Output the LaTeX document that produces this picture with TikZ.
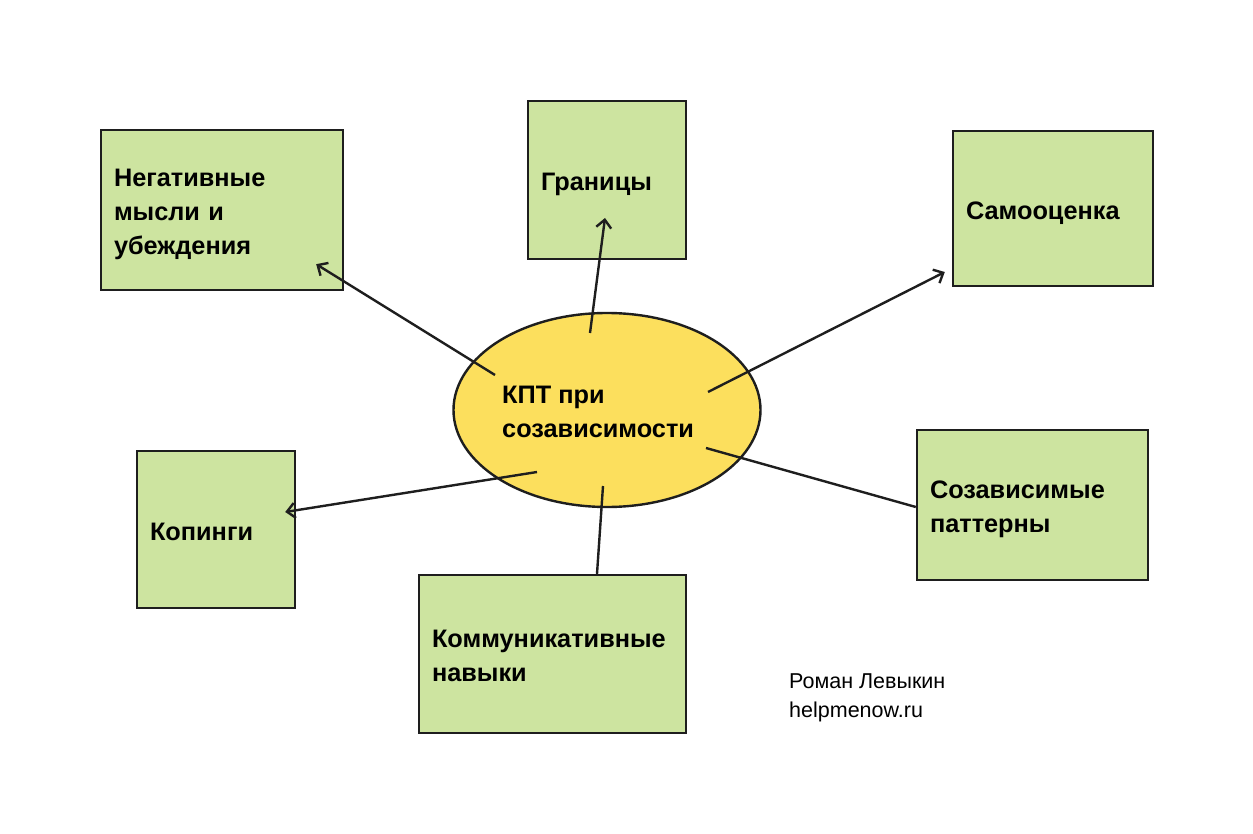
\documentclass[tikz,border=0pt]{standalone}
\usepackage{fontspec}
\setmainfont{Liberation Sans}
\usetikzlibrary{shapes.geometric,arrows.meta}
\definecolor{boxgreen}{HTML}{CDE4A0}
\definecolor{ellyellow}{HTML}{FCDF5D}
\definecolor{ink}{HTML}{1E1E1E}
\newcommand\tstrut{\rule{0pt}{27pt}}
\newcommand\bstrut{\rule[-5.3pt]{0pt}{5.3pt}}
\tikzset{
  topic/.style={draw=ink, line width=2.4pt, fill=boxgreen, rectangle, inner xsep=13pt, inner ysep=0pt,
    align=left, font=\fontsize{25.3}{34}\selectfont\bfseries, text=black, anchor=center},
  hub/.style={draw=ink, line width=2.4pt, fill=ellyellow, ellipse, minimum width=307pt, minimum height=194pt, inner sep=0pt},
  conn/.style={draw=ink, line width=2.4pt},
  arr/.style={conn, -{Straight Barb[length=8pt,width=15pt,line width=2.4pt]}},
}
\begin{document}
\begin{tikzpicture}[x=1pt,y=-1pt]
\useasboundingbox (0,0) rectangle (1253,834);
\fill[white] (0,0) rectangle (1253,834);
\node[hub] (c) at (607,410) {};
\node[anchor=west, align=left, inner xsep=0pt, font=\fontsize{25.3}{34}\selectfont\bfseries] (ct) at (502,412) {КПТ при\\созависимости};
\node[topic, minimum width=242pt, minimum height=160pt, text width=216pt] (neg) at (222,210) {\tstrut Негативные\\мысли и\\убеждения\bstrut};
\node[topic, minimum width=158pt, minimum height=158pt, text width=132pt] (gran) at (607,180) {\tstrut Границы\bstrut};
\node[topic, minimum width=200pt, minimum height=155pt, text width=174pt] (samo) at (1053,208.5) {\tstrut Самооценка\bstrut};
\node[topic, minimum width=158pt, minimum height=157pt, text width=132pt] (kop) at (216,529.5) {\tstrut Копинги\bstrut};
\node[topic, minimum width=267pt, minimum height=158pt, text width=241pt] (komm) at (552.5,654) {\tstrut Коммуникативные\\навыки\bstrut};
\node[topic, minimum width=231pt, minimum height=150pt, text width=205pt] (soz) at (1032.5,505) {\tstrut Созависимые\\паттерны\bstrut};
\node[anchor=west, align=left, inner sep=0pt, font=\fontsize{21.5}{29}\selectfont] (auth) at (789,698) {Роман Левыкин\\helpmenow.ru};
% connector ends
\coordinate (s1) at ([shift={(-112,-35)}]c.center);
\coordinate (e1) at ([shift={(-28,-27)}]neg.south east);
\coordinate (s2) at ([shift={(-17,-77)}]c.center);
\coordinate (e2) at ([shift={(-2,38)}]gran.center);
\coordinate (s3) at ([shift={(101,-18)}]c.center);
\coordinate (e3) at ([shift={(-7,63.5)}]samo.west);
\coordinate (s4) at ([shift={(-70,62)}]c.center);
\coordinate (e4) at ([shift={(-11,-17.5)}]kop.east);
\coordinate (s5) at ([shift={(-4,76)}]c.center);
\coordinate (e5) at ([shift={(44.5,0)}]komm.north);
\coordinate (s6) at ([shift={(99,38)}]c.center);
\coordinate (e6) at ([shift={(0,2)}]soz.west);
\draw[arr] (s1) -- (e1);
\draw[arr] (s2) -- (e2);
\draw[arr] (s3) -- (e3);
\draw[arr] (s4) -- (e4);
\draw[conn] (s5) -- (e5);
\draw[conn] (s6) -- (e6);
\end{tikzpicture}
\end{document}
